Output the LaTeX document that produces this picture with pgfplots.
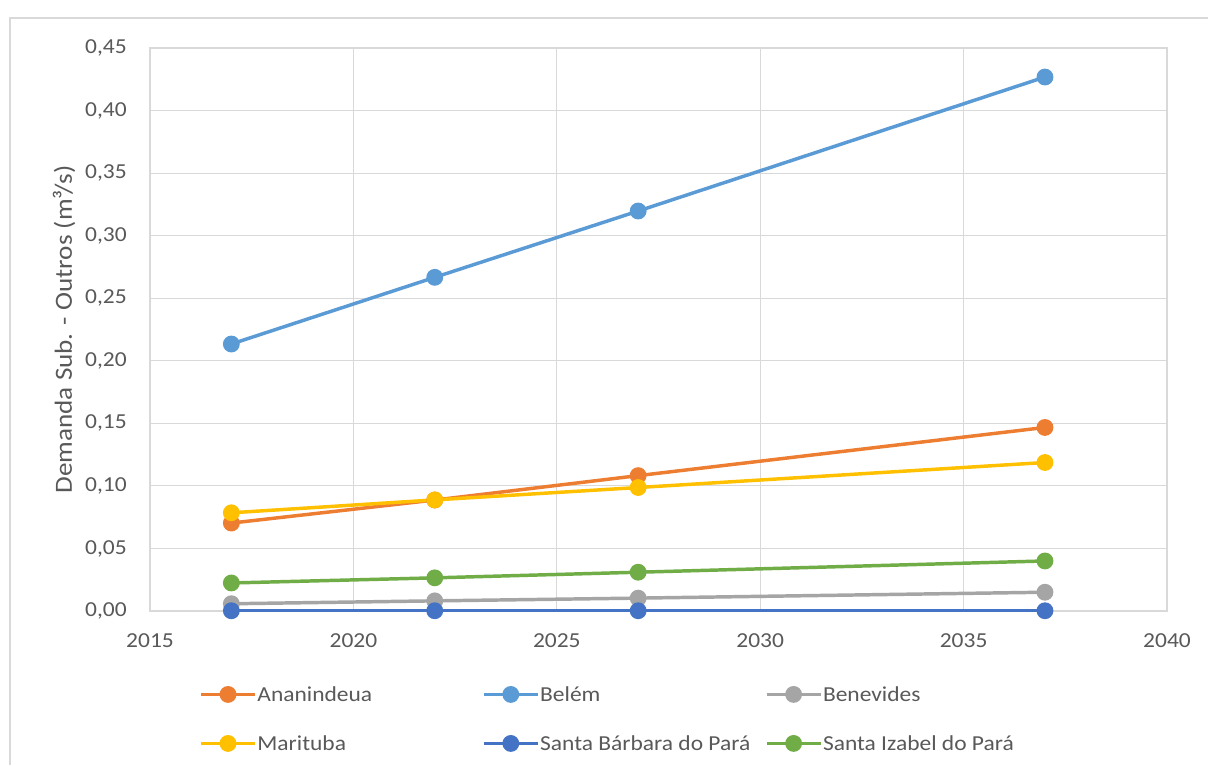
\documentclass[border=0pt]{standalone}
\usepackage{fontspec}
\setmainfont{Carlito}[FakeStretch=1.1]
\usepackage{pgfplots}
\pgfplotsset{compat=1.18}

\definecolor{cAna}{HTML}{ED7D31}
\definecolor{cBel}{HTML}{5B9BD5}
\definecolor{cBen}{HTML}{A5A5A5}
\definecolor{cMar}{HTML}{FFC000}
\definecolor{cSBa}{HTML}{4472C4}
\definecolor{cSIz}{HTML}{70AD47}
\definecolor{txt}{HTML}{595959}
\definecolor{gridc}{HTML}{D9D9D9}

\newcommand{\entry}[1]{\makebox[166.5pt][l]{\rule[-4pt]{0pt}{16pt}#1}}

\begin{document}
\begin{tikzpicture}[font=\fontsize{16}{19}\selectfont]
\useasboundingbox (0,0) rectangle (906pt,573.75pt);
\fill[white] (0,0) rectangle (906pt,573.75pt);
\draw[gridc, line width=1.5pt] (7.5pt,0) -- (7.5pt,560.25pt) -- (906pt,560.25pt);
\begin{axis}[
  at={(112.5pt,115.5pt)}, anchor=south west,
  scale only axis, width=762.75pt, height=422.25pt,
  xmin=2015, xmax=2040, ymin=0, ymax=0.45,
  xtick={2015,2020,...,2040},
  ytick={0,0.05,...,0.45},
  major tick length=0pt,
  axis line style={gridc, line width=0.9pt},
  grid=major,
  major grid style={gridc, line width=0.9pt},
  /pgf/number format/assume math mode=true,
  xticklabel style={text=txt, inner sep=0pt, anchor=center, yshift=-22.5pt,
    /pgf/number format/1000 sep={}},
  yticklabel style={text=txt, inner sep=0pt, anchor=east, xshift=-17.25pt,
    /pgf/number format/.cd, fixed, fixed zerofill, precision=2, use comma},
  ylabel={Demanda Sub. - Outros (m³/s)},
  ylabel style={text=txt, font=\fontsize{18.5}{22}\selectfont,
    at={(axis description cs:-0.0846,0.5)}, anchor=center},
  legend cell align=left,
  legend columns=3,
  legend style={at={(axis description cs:0.0482,-0.1270)}, anchor=north west,
    draw=none, fill=none, inner sep=0pt, text=txt,
    row sep=19.25pt,
    /tikz/every odd column/.append style={column sep=-1.5pt}},
  legend image code/.code={
    \draw[mark repeat=2, mark phase=2, #1]
      plot coordinates {(0pt,0pt) (20.25pt,0pt) (40.5pt,0pt)};
  },
  every axis plot/.append style={line width=2.6pt, mark=*,
    mark options={solid, line width=0.5pt}, mark size=5pt},
]
\addplot[cAna, mark options={fill=cAna}] coordinates {(2017,0.0703) (2022,0.0887) (2027,0.1082) (2037,0.1467)};
\addlegendentry{\entry{Ananindeua}}
\addplot[cBel, mark options={fill=cBel}] coordinates {(2017,0.2134) (2022,0.2667) (2027,0.3197) (2037,0.4268)};
\addlegendentry{\entry{Belém}}
\addplot[cBen, mark options={fill=cBen}] coordinates {(2017,0.0058) (2022,0.0081) (2027,0.0103) (2037,0.0150)};
\addlegendentry{\entry{Benevides}}
\addplot[cMar, mark options={fill=cMar}] coordinates {(2017,0.0785) (2022,0.0888) (2027,0.0987) (2037,0.1187)};
\addlegendentry{\entry{Marituba}}
\addplot[cSBa, mark options={fill=cSBa}] coordinates {(2017,0.0002) (2022,0.0002) (2027,0.0002) (2037,0.0002)};
\addlegendentry{\entry{Santa Bárbara do Pará}}
\addplot[cSIz, mark options={fill=cSIz}] coordinates {(2017,0.0224) (2022,0.0265) (2027,0.0310) (2037,0.0400)};
\addlegendentry{\entry{Santa Izabel do Pará}}
\end{axis}
\end{tikzpicture}
\end{document}
